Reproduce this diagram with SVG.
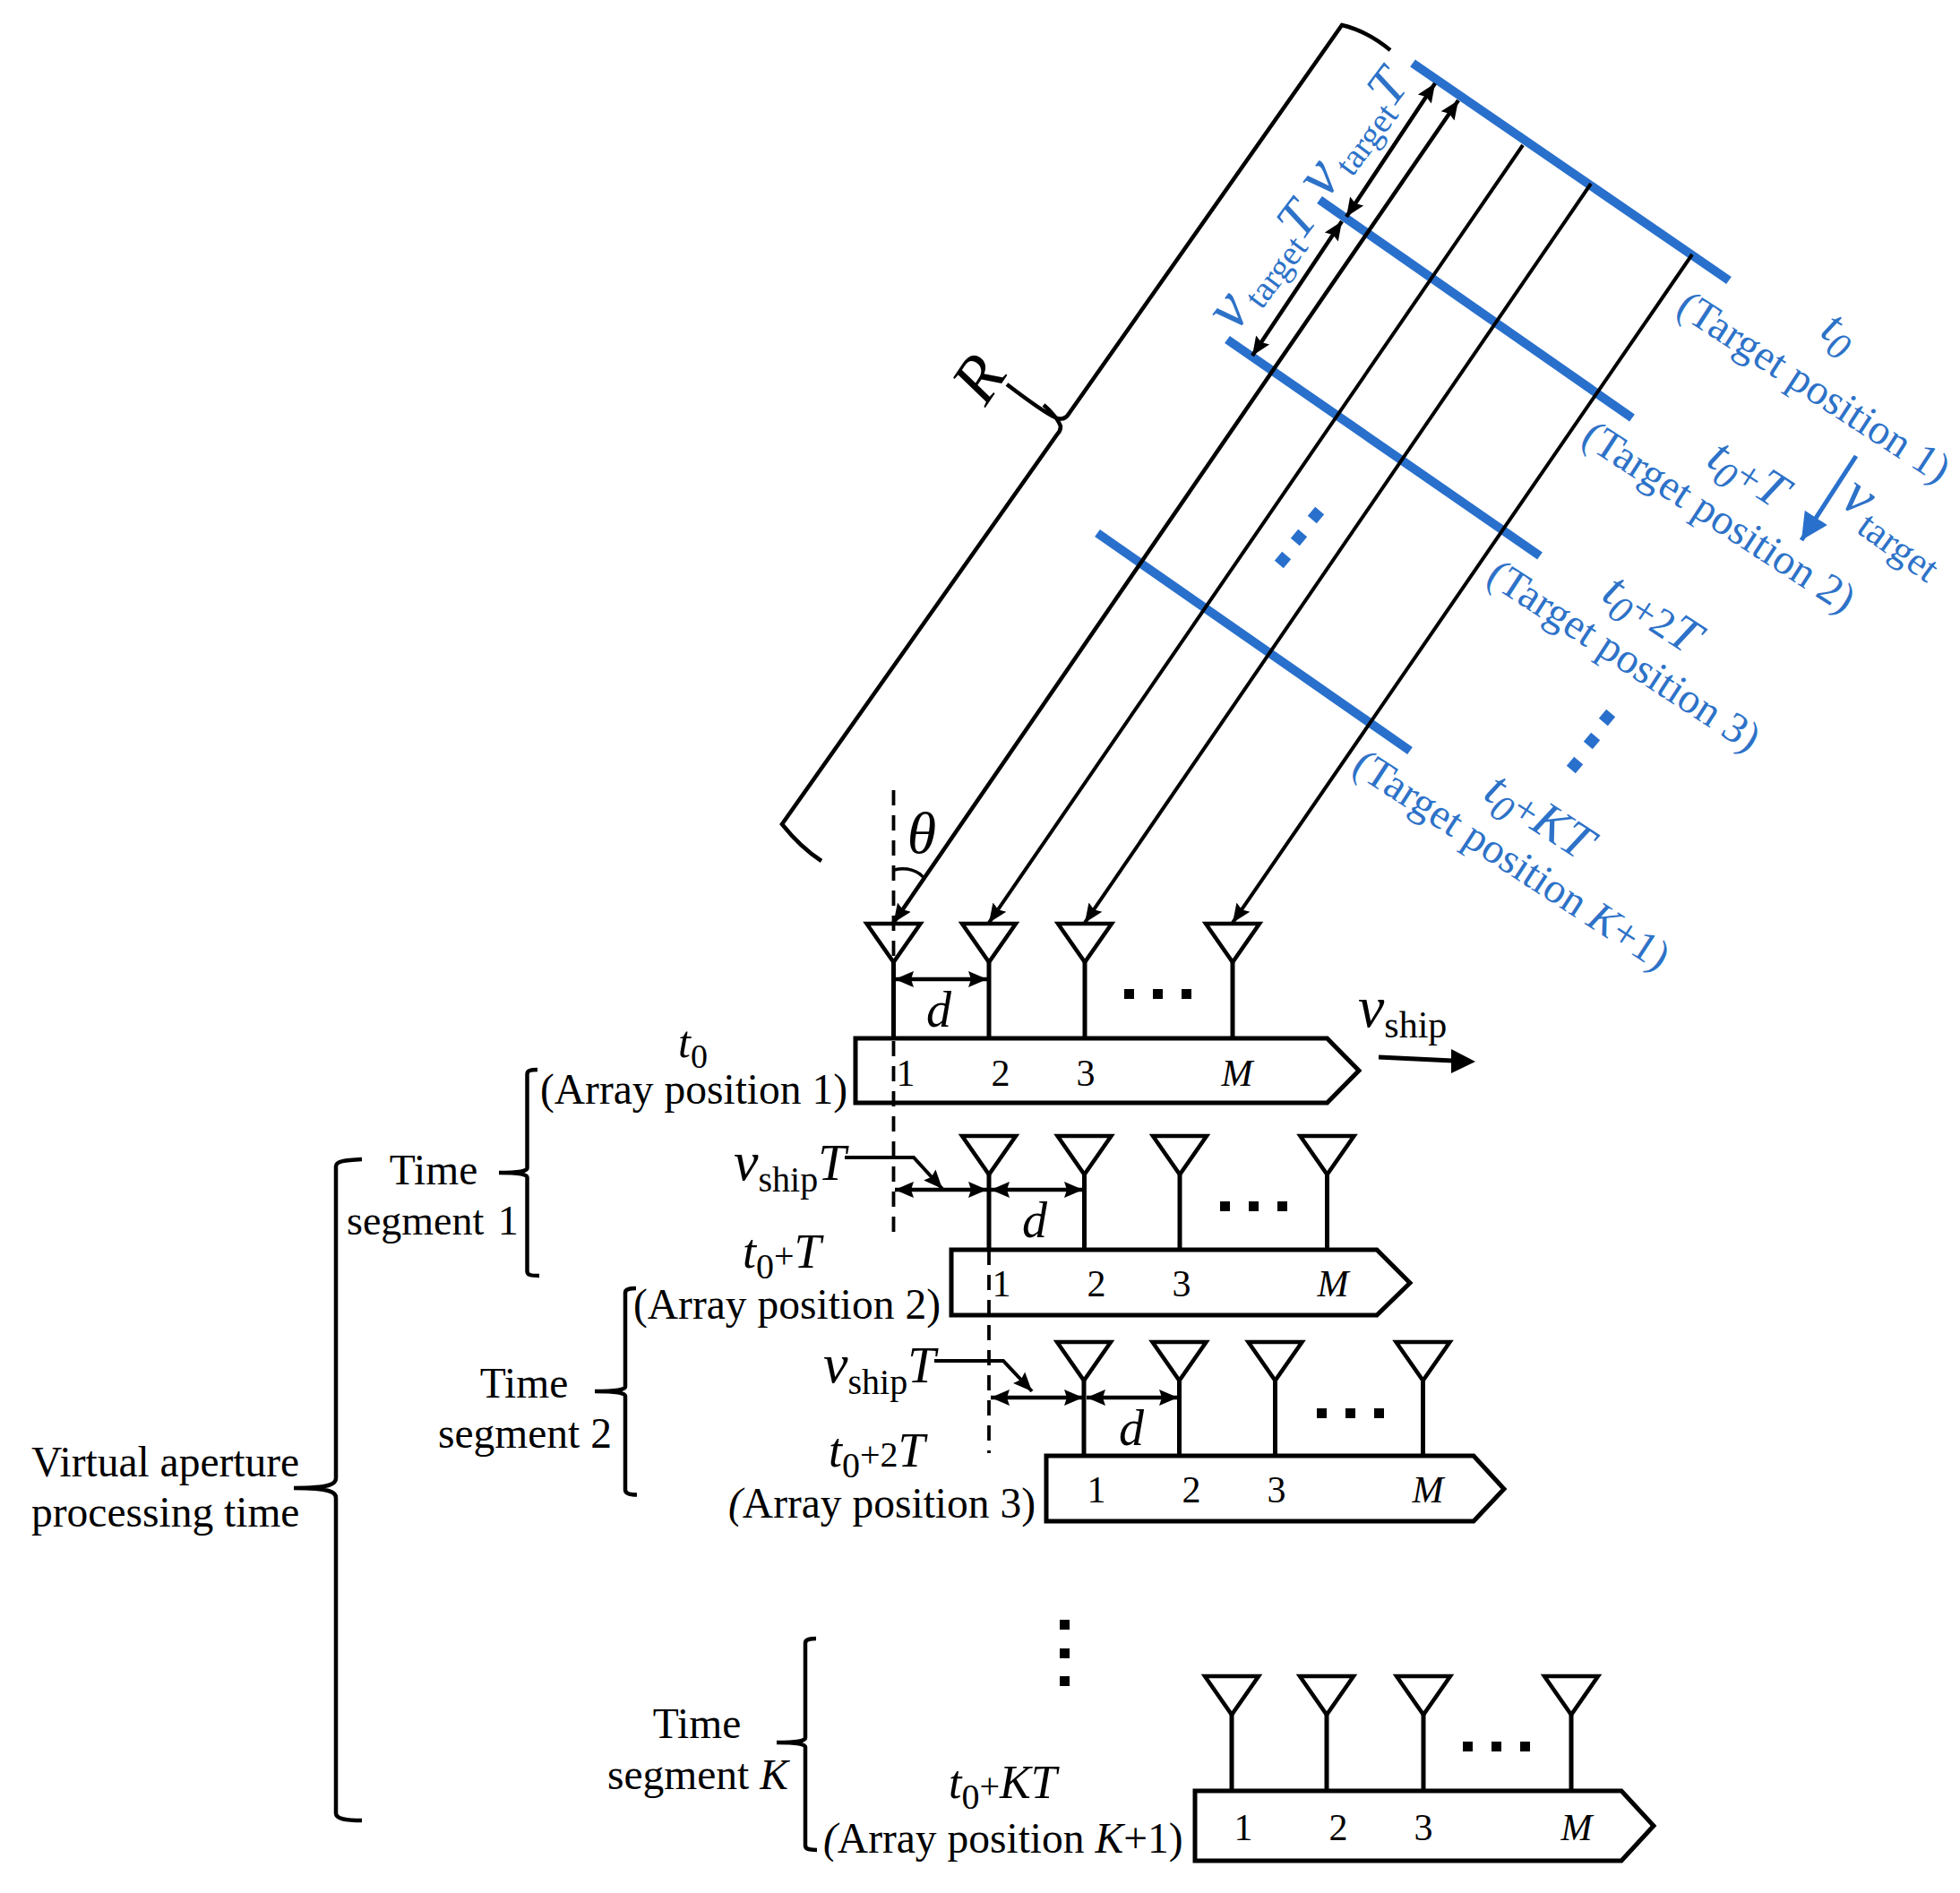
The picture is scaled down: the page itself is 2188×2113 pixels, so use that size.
<svg xmlns="http://www.w3.org/2000/svg" width="2188" height="2113" viewBox="0 0 2188 2113">
<style>
text{font-family:"Liberation Serif","Times New Roman",serif;font-size:47.5px;fill:#000}
.i{font-style:italic}
.b text{fill:#2d72c8}
.big{font-size:56px;font-style:italic}
.num{font-size:42px}
.sub{font-style:normal}
.ant{fill:#fff;stroke:#000;stroke-width:4.5}
.stem{fill:none;stroke:#000;stroke-width:5}
.bar{fill:#fff;stroke:#000;stroke-width:5}
.brace{fill:none;stroke:#000;stroke-width:4.5}
.beam{fill:none;stroke:#000;stroke-width:4;marker-end:url(#ah)}
.dim{fill:none;stroke:#000;stroke-width:4.5;marker-start:url(#ahs);marker-end:url(#ah)}
.dash{fill:none;stroke:#000;stroke-width:3.8;stroke-dasharray:17 11}
.tl{fill:none;stroke:#2970cc;stroke-width:10}
.dot{fill:#000}
.bdot{fill:#2970cc}
</style>
<defs>
<marker id="ah" markerUnits="userSpaceOnUse" markerWidth="24" markerHeight="22" refX="21" refY="10" orient="auto"><path d="M0,1 L21,10 L0,19 L3,10 z" fill="#000"/></marker>
<marker id="ahs" markerUnits="userSpaceOnUse" markerWidth="24" markerHeight="22" refX="0" refY="10" orient="auto"><path d="M21,1 L0,10 L21,19 L18,10 z" fill="#000"/></marker>
<marker id="ahb" markerUnits="userSpaceOnUse" markerWidth="32" markerHeight="32" refX="30" refY="15" orient="auto"><path d="M0,0 L30,15 L0,30 z" fill="#2970cc"/></marker>
<path id="tri" d="M-30,0 L30,0 L0,43 z"/>
</defs>

<g id="array-1">
<path class="bar" d="M955,1159 H1481.5 L1517,1195 L1481.5,1231 H955 z"/>
<path class="stem" d="M997.5,1074 V1159 M1104,1074 V1159 M1211,1074 V1159 M1376,1074 V1159"/>
<use href="#tri" x="997.5" y="1031" class="ant"/><use href="#tri" x="1104" y="1031" class="ant"/><use href="#tri" x="1211" y="1031" class="ant"/><use href="#tri" x="1376" y="1031" class="ant"/>
<text class="num" x="1011" y="1212" text-anchor="middle">1</text><text class="num" x="1117" y="1212" text-anchor="middle">2</text><text class="num" x="1212" y="1212" text-anchor="middle">3</text><text class="num i" x="1381" y="1212" text-anchor="middle">M</text>
<rect class="dot" x="1255" y="1104" width="11" height="11"/><rect class="dot" x="1287" y="1104" width="11" height="11"/><rect class="dot" x="1319" y="1104" width="11" height="11"/>
<text class="big" x="1048" y="1146" text-anchor="middle">d</text>
<text class="i" x="757" y="1180" style="font-size:50px">t<tspan class="sub" dy="12" style="font-size:38px">0</tspan></text>
<text x="603" y="1232">(Array position 1)</text>
</g>

<g id="array-2">
<path class="bar" d="M1062,1395 H1537 L1574,1432 L1537,1468 H1062 z"/>
<path class="stem" d="M1104,1311 V1395 M1210.5,1311 V1395 M1317,1311 V1395 M1481.5,1311 V1395"/>
<use href="#tri" x="1104" y="1268" class="ant"/><use href="#tri" x="1210.5" y="1268" class="ant"/><use href="#tri" x="1317" y="1268" class="ant"/><use href="#tri" x="1481.5" y="1268" class="ant"/>
<text class="num" x="1118" y="1447" text-anchor="middle">1</text><text class="num" x="1224" y="1447" text-anchor="middle">2</text><text class="num" x="1319" y="1447" text-anchor="middle">3</text><text class="num i" x="1488" y="1447" text-anchor="middle">M</text>
<rect class="dot" x="1362" y="1341" width="11" height="11"/><rect class="dot" x="1394" y="1341" width="11" height="11"/><rect class="dot" x="1426" y="1341" width="11" height="11"/>
<text class="big" x="1155" y="1381" text-anchor="middle">d</text>
<text class="i" x="829" y="1415" style="font-size:54px">t<tspan class="sub" dy="12" style="font-size:40px">0</tspan><tspan class="sub" dy="-12" style="font-size:40px">+</tspan>T</text>
<text x="707" y="1472">(Array position 2)</text>
<text class="i" x="819" y="1317" style="font-size:62px">v<tspan class="sub" dy="13" style="font-size:40px">ship</tspan><tspan dy="-13" style="font-size:56px">T</tspan></text>
</g>

<g id="array-3">
<path class="bar" d="M1168,1625 H1645 L1679,1662 L1645,1698 H1168 z"/>
<path class="stem" d="M1210,1539 V1625 M1316.5,1539 V1625 M1423.5,1539 V1625 M1588.5,1539 V1625"/>
<use href="#tri" x="1210" y="1498" class="ant"/><use href="#tri" x="1316.5" y="1498" class="ant"/><use href="#tri" x="1423.5" y="1498" class="ant"/><use href="#tri" x="1588.5" y="1498" class="ant"/>
<text class="num" x="1224" y="1677" text-anchor="middle">1</text><text class="num" x="1330" y="1677" text-anchor="middle">2</text><text class="num" x="1425" y="1677" text-anchor="middle">3</text><text class="num i" x="1594" y="1677" text-anchor="middle">M</text>
<rect class="dot" x="1470" y="1572" width="11" height="11"/><rect class="dot" x="1502" y="1572" width="11" height="11"/><rect class="dot" x="1534" y="1572" width="11" height="11"/>
<text class="big" x="1263" y="1613" text-anchor="middle">d</text>
<text class="i" x="925" y="1637" style="font-size:54px">t<tspan class="sub" dy="12" style="font-size:40px">0</tspan><tspan class="sub" dy="-12" style="font-size:40px">+2</tspan>T</text>
<text x="813" y="1694"><tspan class="i">(</tspan>Array position 3)</text>
<text class="i" x="919" y="1543" style="font-size:62px">v<tspan class="sub" dy="13" style="font-size:40px">ship</tspan><tspan dy="-13" style="font-size:56px">T</tspan></text>
</g>

<g id="array-k">
<path class="bar" d="M1334,1999 H1810 L1846,2038 L1810,2077 H1334 z"/>
<path class="stem" d="M1375,1914 V1999 M1481,1914 V1999 M1589,1914 V1999 M1754,1914 V1999"/>
<use href="#tri" x="1375" y="1871" class="ant"/><use href="#tri" x="1481" y="1871" class="ant"/><use href="#tri" x="1589" y="1871" class="ant"/><use href="#tri" x="1754" y="1871" class="ant"/>
<text class="num" x="1388" y="2054" text-anchor="middle">1</text><text class="num" x="1494" y="2054" text-anchor="middle">2</text><text class="num" x="1589" y="2054" text-anchor="middle">3</text><text class="num i" x="1760" y="2054" text-anchor="middle">M</text>
<rect class="dot" x="1633" y="1944" width="11" height="11"/><rect class="dot" x="1665" y="1944" width="11" height="11"/><rect class="dot" x="1697" y="1944" width="11" height="11"/>
<text class="i" x="1059" y="2007" style="font-size:52px">t<tspan class="sub" dy="12" style="font-size:40px">0</tspan><tspan class="sub" dy="-12" style="font-size:40px">+</tspan>KT</text>
<text x="919" y="2068"><tspan class="i">(</tspan>Array position <tspan class="i">K</tspan>+1)</text>
</g>

<g id="segment-labels">
<text x="35" y="1648">Virtual aperture</text>
<text x="35" y="1704">processing time</text>
<text x="484" y="1322" text-anchor="middle">Time</text>
<text x="387" y="1378" style="font-size:46px;word-spacing:4px">segment 1</text>
<text x="585" y="1560" text-anchor="middle">Time</text>
<text x="489" y="1616">segment 2</text>
<text x="778" y="1940" text-anchor="middle">Time</text>
<text x="678" y="1997">segment <tspan class="i">K</tspan></text>
</g>

<g id="vertical-dots">
<rect class="dot" x="1183" y="1808" width="11" height="11"/><rect class="dot" x="1183" y="1840" width="11" height="11"/><rect class="dot" x="1183" y="1871" width="11" height="11"/>
</g>

<g id="velocity-ship">
<text class="i" x="1516" y="1146" style="font-size:66px">v<tspan class="sub" dy="12" style="font-size:42px">ship</tspan></text>
<path d="M1539,1180 L1622,1184" fill="none" stroke="#000" stroke-width="5"/>
<path d="M1620,1171 L1647,1185 L1620,1198 z" fill="#000"/>
</g>

<g id="angle-theta">
<text class="i" x="1029" y="952" text-anchor="middle" style="font-size:66px">θ</text>
<path d="M998,971 C1012,968 1025,971 1032,981" fill="none" stroke="#000" stroke-width="3.5"/>
</g>

<g id="range">
<path class="brace" d="M1552,56 C1535,42 1515,32 1498,28 L1193,462 C1190,467 1185,469 1178,466 C1165,460 1145,445 1124,429 M1165,452 C1175,460 1182,470 1184,476 C1184,480 1182,483 1180,485 L873,920 C885,935 900,950 917,961"/>
<text class="i" x="0" y="0" transform="translate(1100,455) rotate(-56)" style="font-size:74px">R</text>
</g>

<g id="targets">
<path class="tl" d="M1577,70.5 L1930,313"/>
<path class="tl" d="M1473,223 L1822,466.5"/>
<path class="tl" d="M1370,379 L1719,620.5"/>
<path class="tl" d="M1225,595 L1574,838"/>
<g class="b">
<text transform="translate(1869,349) rotate(33)">(Target position 1)</text>
<text transform="translate(1763,494) rotate(33)">(Target position 2)</text>
<text transform="translate(1657,649) rotate(33)">(Target position 3)</text>
<text transform="translate(1507,861) rotate(33)">(Target position <tspan class="i">K</tspan>+1)</text>
<text class="i" transform="translate(2030,374) rotate(33)" style="font-size:54px">t<tspan dy="12" style="font-size:42px">0</tspan></text>
<text class="i" transform="translate(1903,518) rotate(33)" style="font-size:56px">t<tspan dy="12" style="font-size:42px">0</tspan><tspan class="sub" dy="-12" style="font-size:46px">+</tspan>T</text>
<text class="i" transform="translate(1786,668) rotate(33)" style="font-size:56px">t<tspan dy="12" style="font-size:42px">0</tspan><tspan class="sub" dy="-12" style="font-size:46px">+2</tspan>T</text>
<text class="i" transform="translate(1654,890) rotate(33)" style="font-size:56px">t<tspan dy="12" style="font-size:42px">0</tspan><tspan class="sub" dy="-12" style="font-size:46px">+</tspan>KT</text>
<text class="i" transform="translate(1379,372) rotate(-53)" style="font-size:72px">v<tspan class="sub" dx="6" dy="8" style="font-size:39px">target</tspan><tspan dy="-10" style="font-size:60px">T</tspan></text>
<text class="i" transform="translate(1480,224) rotate(-53)" style="font-size:72px">v<tspan class="sub" dx="6" dy="8" style="font-size:39px">target</tspan><tspan dy="-10" style="font-size:60px">T</tspan></text>
<text class="i" transform="translate(2052,562) rotate(36)" style="font-size:66px">v<tspan class="sub" dx="4" dy="14" style="font-size:44px">target</tspan></text>
</g>
<rect class="bdot" x="-6.5" y="-6.5" width="13" height="13" transform="translate(1469,575) rotate(40)"/>
<rect class="bdot" x="-6.5" y="-6.5" width="13" height="13" transform="translate(1450,600) rotate(40)"/>
<rect class="bdot" x="-6.5" y="-6.5" width="13" height="13" transform="translate(1432,625) rotate(40)"/>
<rect class="bdot" x="-6.5" y="-6.5" width="13" height="13" transform="translate(1794,801) rotate(40)"/>
<rect class="bdot" x="-6.5" y="-6.5" width="13" height="13" transform="translate(1777,827) rotate(40)"/>
<rect class="bdot" x="-6.5" y="-6.5" width="13" height="13" transform="translate(1758,854) rotate(40)"/>
</g>

<g id="connectors">
<path class="beam" d="M1700,162 L1104,1030"/>
<path class="beam" d="M1776,205 L1211,1030"/>
<path class="beam" d="M1889,284 L1376,1030"/>
<path class="dim" d="M1628,112 L997.5,1030"/>
<path class="dim" d="M1602,93 L1503,242"/>
<path class="dim" d="M1498,247 L1398,397"/>
<path d="M2072,509 L2011,603" fill="none" stroke="#2970cc" stroke-width="5" marker-end="url(#ahb)"/>
<path class="dash" d="M997.5,882 V1376"/>
<path class="dash" d="M1104,1395 V1622"/>
<path class="dim" d="M999,1093 H1102"/>
<path class="dim" d="M999,1328 H1102"/>
<path class="dim" d="M1106,1328 H1209"/>
<path class="dim" d="M1106,1560 H1209"/>
<path class="dim" d="M1213,1560 H1315"/>
<path class="beam" d="M943,1292 H1020 L1052,1327"/>
<path class="beam" d="M1043,1519 H1120 L1152,1553"/>
<path class="brace" d="M404,1294 C385,1295 375,1296 375,1302 V1650 C375,1656 370,1661 328,1661 C370,1661 375,1666 375,1672 V2024 C375,2030 385,2032 404,2032"/>
<path class="brace" d="M600,1194 C592,1194 588.5,1195 588.5,1199 V1304 C588.5,1307 580,1309 557,1309 C580,1309 588.5,1311 588.5,1314 V1419 C588.5,1423 592,1424 602,1424"/>
<path class="brace" d="M710,1438 C702,1438 698,1439 698,1443 V1548 C698,1551 688,1553 664,1553 C688,1553 698,1555 698,1558 V1663 C698,1667 702,1668.5 711,1668.5"/>
<path class="brace" d="M911,1829 C903,1829 899,1830 899,1834 V1940 C899,1943 890,1945 867,1945 C890,1945 899,1947 899,1950 V2060 C899,2064 903,2065 912,2065"/>
</g>
</svg>
